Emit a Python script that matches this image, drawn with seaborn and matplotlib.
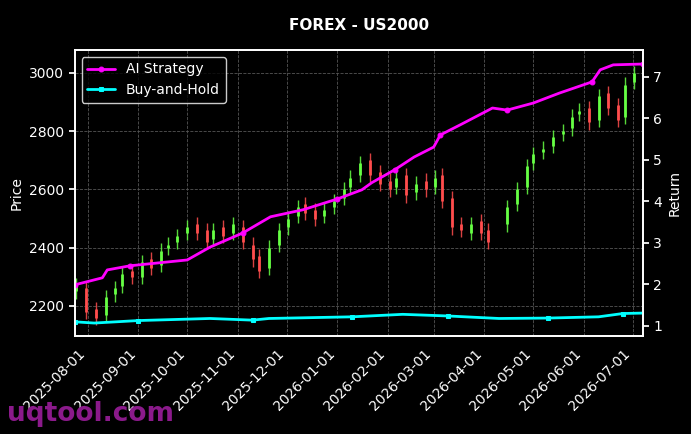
import numpy as np
import pandas as pd
import matplotlib
matplotlib.use("Agg")
import matplotlib.pyplot as plt
import seaborn as sns

# candles (sampled every 4 business days)
candle_dates = pd.date_range("2025-07-25", "2026-07-03", freq="4B")
closes = [2270, 2180, 2160, 2230, 2260, 2310, 2300, 2350, 2330, 2390, 2410, 2440, 2470,
          2450, 2420, 2460, 2440, 2480, 2420, 2360, 2320, 2400, 2460, 2500, 2540, 2520,
          2500, 2530, 2560, 2600, 2640, 2690, 2650, 2620, 2600, 2640, 2580, 2620, 2600,
          2640, 2560, 2470, 2460, 2480, 2450, 2420, np.nan, 2540, 2600, 2680, 2720, 2740,
          2780, 2800, 2850, 2870, 2830, 2920, 2880, 2840, 2960, 3000]
opens = [2250, 2260, 2190, 2170, 2240, 2270, 2320, 2300, 2360, 2340, 2400, 2420, 2450,
         2480, 2460, 2430, 2470, 2450, 2470, 2410, 2370, 2330, 2410, 2470, 2510, 2550,
         2530, 2510, 2540, 2570, 2610, 2650, 2700, 2660, 2630, 2610, 2650, 2590, 2630,
         2610, 2650, 2570, 2480, 2450, 2490, 2460, np.nan, 2480, 2550, 2610, 2690, 2730,
         2750, 2790, 2810, 2860, 2880, 2840, 2930, 2890, 2850, 2970]
n = min(len(candle_dates), len(closes))
candle_dates = candle_dates[:n]

# return curves
ai_dates = ["2025-07-24", "2025-08-10", "2025-08-13", "2025-08-27", "2025-10-01", "2025-10-15",
            "2025-11-04", "2025-11-21", "2025-12-11", "2026-01-01", "2026-01-16", "2026-01-22",
            "2026-02-05", "2026-02-17", "2026-03-01", "2026-03-05", "2026-03-17", "2026-04-06",
            "2026-04-15", "2026-05-01", "2026-05-17", "2026-06-06", "2026-06-11", "2026-06-19",
            "2026-07-07"]
ai_ret = [1.99, 2.16, 2.35, 2.45, 2.59, 2.90, 3.24, 3.63, 3.80, 4.06, 4.28, 4.45, 4.76, 5.07,
          5.31, 5.60, 5.84, 6.25, 6.20, 6.37, 6.61, 6.88, 7.17, 7.29, 7.31]
bh_dates = ["2025-07-24", "2025-08-05", "2025-09-01", "2025-10-15", "2025-11-10", "2025-11-20",
            "2026-01-10", "2026-02-10", "2026-03-10", "2026-04-10", "2026-05-10", "2026-06-10",
            "2026-06-25", "2026-07-07"]
bh_ret = [1.10, 1.07, 1.13, 1.18, 1.14, 1.18, 1.22, 1.28, 1.24, 1.18, 1.19, 1.22, 1.30, 1.31]

df_c = pd.DataFrame({"date": candle_dates, "open": opens[:n], "close": closes[:n]}).dropna()
df_ai = pd.DataFrame({"date": pd.to_datetime(ai_dates), "ret": ai_ret})
df_bh = pd.DataFrame({"date": pd.to_datetime(bh_dates), "ret": bh_ret})

sns.set_theme(style="dark")
plt.rcParams["font.family"] = ["DejaVu Sans"]
fig = plt.figure(figsize=(6.91, 4.34), dpi=100, facecolor="black")
ax = fig.add_axes([0.108, 0.226, 0.822, 0.659], facecolor="black")

up = df_c["close"] >= df_c["open"]
cols = np.where(up, "#66ff44", "#ff4d4d")
lo = np.minimum(df_c["open"], df_c["close"]) - 25
hi = np.maximum(df_c["open"], df_c["close"]) + 25
ax.vlines(df_c["date"], lo, hi, colors=cols, lw=1.0, alpha=0.85)
ax.vlines(df_c["date"], df_c["open"], df_c["close"], colors=cols, lw=2.0)
ax.set_ylim(2097, 3079)
ax.set_ylabel("Price", color="white", fontsize=10)
ax.grid(True, color="#555555", ls="--", lw=0.6)

ax2 = ax.twinx()
sns.lineplot(data=df_ai, x="date", y="ret", ax=ax2, color="#ff00ff", lw=2,
             marker="o", markersize=3.5, markevery=3, markeredgecolor="#ff00ff",
             label="AI Strategy")
sns.lineplot(data=df_bh, x="date", y="ret", ax=ax2, color="#00ffff", lw=2,
             marker="s", markersize=3.5, markevery=2, markeredgecolor="#00ffff",
             label="Buy-and-Hold")
ax2.set_ylim(0.76, 7.65)
ax2.set_ylabel("Return", color="white", fontsize=10)
ax2.set_xlabel("")
ax.set_xlim(pd.Timestamp("2025-07-24"), pd.Timestamp("2026-07-07"))
ticks = pd.date_range("2025-08-01", "2026-07-01", freq="MS")
ax.set_xticks(ticks)
ax.set_xticklabels([t.strftime("%Y-%m-%d") for t in ticks], rotation=45, ha="right")

for a in (ax, ax2):
    a.tick_params(colors="white", labelsize=10, length=4)
    a.tick_params(axis="both", which="both", direction="out", color="white")
    for s in a.spines.values():
        s.set_color("white")
leg = ax2.legend(loc="upper left", facecolor="black", edgecolor="white", labelcolor="white",
                 fontsize=10)
ax.set_title("FOREX - US2000", color="white", fontweight="bold", fontsize=11, pad=14)
fig.text(0.01, 0.03, "uqtool.com", color="#8b1a8b", fontsize=19, fontweight="bold")
fig.savefig("out.png", facecolor="black")
